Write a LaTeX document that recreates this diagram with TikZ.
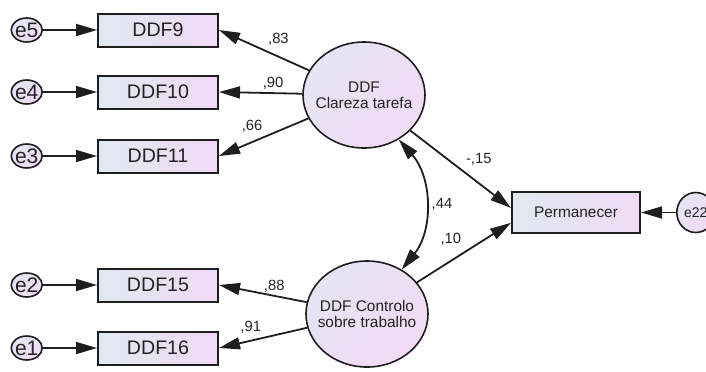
\documentclass[tikz,border=0pt]{standalone}
\usepackage{fontspec}
\setmainfont{Liberation Sans}
\usepackage{tikz}
\usetikzlibrary{shapes.geometric, arrows.meta, positioning}
\definecolor{amosline}{RGB}{30, 30, 30}
\definecolor{amostext}{RGB}{35, 35, 35}
\definecolor{boxleft}{RGB}{224, 233, 240}
\definecolor{boxright}{RGB}{240, 218, 245}
\definecolor{latenttop}{RGB}{228, 228, 244}
\definecolor{latentbottom}{RGB}{243, 219, 245}

\begin{document}
\begin{tikzpicture}[
    x=0.5pt, y=-0.5pt,
    obs/.style={rectangle, draw=amosline, line width=1pt, minimum width=60pt, minimum height=16.5pt, inner sep=0pt, left color=boxleft, right color=boxright, text=amostext, font=\fontsize{9.8}{11}\selectfont},
    outcome/.style={obs, minimum width=64pt, minimum height=20.5pt, font=\fontsize{7.7}{8}\selectfont},
    latent/.style={ellipse, draw=amosline, line width=0.8pt, minimum width=61pt, minimum height=53pt, inner sep=-5pt, align=center, top color=latenttop, bottom color=latentbottom, shading angle=45, text=amostext, font=\fontsize{7.7}{8}\selectfont},
    err/.style={ellipse, draw=amosline, line width=0.8pt, minimum width=15.5pt, minimum height=12pt, inner sep=-1pt, top color=latenttop, bottom color=latentbottom, shading angle=45, text=amostext, font=\fontsize{10.5}{12}\selectfont},
    arrow/.style={->, >={Triangle[length=10.5pt, width=6pt]}, line width=0.9pt, amosline},
    twoway/.style={arrow, <->},
    coef/.style={inner sep=1pt, text=amostext, font=\fontsize{7.4}{8}\selectfont}
]
    \path[use as bounding box] (0,0) rectangle (706,371);
    \clip (0,0) rectangle (706,371);

    % indicators
    \node[obs] (ddf9) at (158,30) {DDF9};
    \node[obs] (ddf10) at (158,92) {DDF10};
    \node[obs] (ddf11) at (158,156) {DDF11};
    \node[obs] (ddf15) at (158,285) {DDF15};
    \node[obs] (ddf16) at (158,348) {DDF16};

    % errors
    \node[err, left=27pt of ddf9] (e5) {e5};
    \node[err, left=27pt of ddf10] (e4) {e4};
    \node[err, left=27pt of ddf11] (e3) {e3};
    \node[err, left=27pt of ddf15] (e2) {e2};
    \node[err, left=27pt of ddf16] (e1) {e1};

    % factors and outcome
    \node[latent] (clareza) at (364,95) {DDF\\Clareza tarefa};
    \node[latent] (controlo) at (367,314) {DDF Controlo\\sobre trabalho};
    \node[outcome] (perm) at (576,212.5) {Permanecer};
    \node[err, minimum width=19pt, minimum height=20pt, font=\fontsize{7}{8}\selectfont, right=17.5pt of perm] (e22) {e22};

    \draw[arrow] (e5) -- (ddf9);
    \draw[arrow] (e4) -- (ddf10);
    \draw[arrow] (e3) -- (ddf11);
    \draw[arrow] (e2) -- (ddf15);
    \draw[arrow] (e1) -- (ddf16);

    \draw[arrow] (clareza) -- node[coef, pos=0.34, above=4.4pt] {,83} (ddf9.east);
    \draw[arrow] (clareza) -- node[coef, pos=0.35, above=0.4pt] {,90} (ddf10.east);
    \draw[arrow] (clareza) -- node[coef, pos=0.63, above=3.2pt] {,66} (ddf11.east);
    \draw[arrow] (controlo) -- node[coef, pos=0.37, above=0.4pt] {,88} (ddf15.east);
    \draw[arrow] (controlo) -- node[coef, pos=0.64, above=2.4pt] {,91} (ddf16.east);

    \draw[arrow] (clareza) -- node[coef, pos=0.68, above=7.6pt] {-,15} (perm.176);
    \draw[arrow] (controlo) -- node[coef, pos=0.36, above=6.1pt] {,10} (perm.189);
    \draw[twoway] (clareza.-52) to[bend left=40] node[coef, right=2pt] {,44} (controlo.52);
    \draw[arrow] (e22) -- (perm);
\end{tikzpicture}
\end{document}
